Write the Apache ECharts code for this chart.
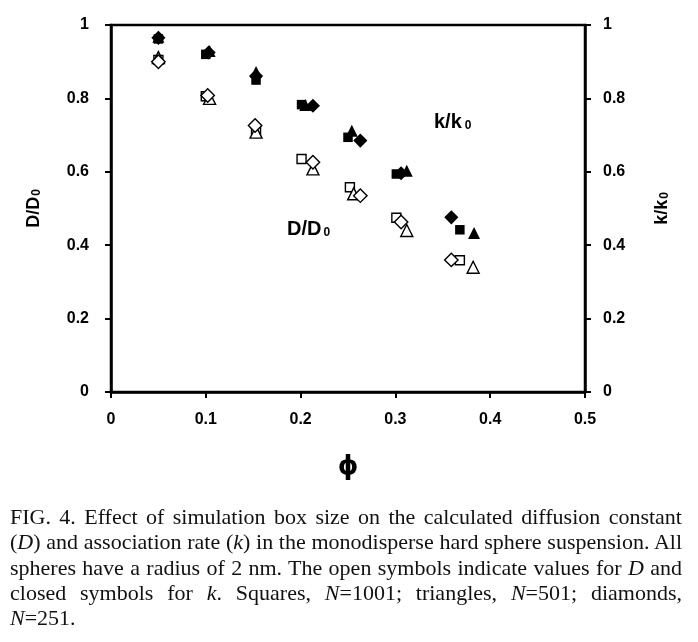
<!DOCTYPE html>
<html>
<head>
<meta charset="utf-8">
<script src="https://cdn.jsdelivr.net/npm/echarts@6/dist/echarts.min.js"></script>
<style>
  body { margin: 0; background: #fff; overflow: hidden; }
  #chart { position: absolute; left: 0; top: 0; width: 698px; height: 642px; }
  #caption {
    position: absolute; left: 10px; top: 504px; width: 672px;
    font-family: "Liberation Serif", "Times New Roman", serif;
    font-size: 22px; line-height: 25.3px; color: #111;
  }
  #caption span { display: block; text-align: justify; text-align-last: justify; white-space: nowrap; }
  #caption span.last { text-align-last: left; }
</style>
</head>
<body>
<div id="chart"></div>
<div id="caption">
  <span>FIG. 4. Effect of simulation box size on the calculated diffusion constant</span>
  <span>(<i>D</i>) and association rate (<i>k</i>) in the monodisperse hard sphere suspension. All</span>
  <span>spheres have a radius of 2 nm. The open symbols indicate values for <i>D</i> and</span>
  <span>closed symbols for <i>k</i>. Squares, <i>N</i>=1001; triangles, <i>N</i>=501; diamonds,</span>
  <span class="last"><i>N</i>=251.</span>
</div>
<script>
// squares, N=1001
var phiSquareK = [0.050, 0.100, 0.153, 0.201, 0.250, 0.301, 0.368];
var kSquare = [0.962, 0.920, 0.850, 0.783, 0.694, 0.594, 0.442];
var phiSquareD = [0.050, 0.100, 0.153, 0.201, 0.252, 0.301, 0.368];
var dSquare = [0.905, 0.806, 0.714, 0.635, 0.558, 0.475, 0.359];

// triangles, N=501
var phiTriK = [0.050, 0.104, 0.153, 0.205, 0.254, 0.312, 0.383];
var kTri = [0.968, 0.929, 0.872, 0.782, 0.712, 0.603, 0.433];
var phiTriD = [0.050, 0.104, 0.153, 0.213, 0.256, 0.312, 0.382];
var dTri = [0.911, 0.800, 0.708, 0.608, 0.540, 0.440, 0.340];

// diamonds, N=251
var phiDiaK = [0.050, 0.103, 0.153, 0.213, 0.263, 0.306, 0.359];
var kDia = [0.965, 0.925, 0.861, 0.780, 0.685, 0.596, 0.476];
var phiDiaD = [0.050, 0.102, 0.152, 0.213, 0.263, 0.306, 0.359];
var dDia = [0.900, 0.808, 0.726, 0.626, 0.535, 0.463, 0.360];

var xTicks = ["0", "0.1", "0.2", "0.3", "0.4", "0.5"];
var yTicks = ["0", "0.2", "0.4", "0.6", "0.8", "1"];

var font = "'Liberation Sans', Arial, sans-serif";

function pairs(xs, ys) {
  return xs.map(function (x, i) { return [x, ys[i]]; });
}

function makeSeries(name, xs, ys, axis, symbol, size, open, rotate) {
  return {
    name: name,
    type: "scatter",
    yAxisIndex: axis,
    symbol: symbol,
    symbolSize: size,
    symbolRotate: rotate || 0,
    itemStyle: {
      color: open ? "#fff" : "#000",
      borderColor: "#000",
      borderWidth: open ? 1.4 : 0,
      opacity: 1,
    },
    emphasis: { disabled: true },
    data: pairs(xs, ys),
  };
}

var myChart = echarts.init(document.getElementById("chart"), null, { renderer: "canvas" });

var axisLine = { show: true, onZero: false, lineStyle: { color: "#000", width: 2.5 } };
var axisTick = { show: true, length: 6, lineStyle: { color: "#000", width: 2 } };
var labelStyle = { color: "#000", fontFamily: font, fontWeight: "bold", fontSize: 16 };

var option = {
  animation: false,
  backgroundColor: "#fff",
  grid: { left: 111, right: 113, top: 25, bottom: 250, show: true, borderColor: "#000", borderWidth: 2.5 },
  xAxis: [{
    type: "value",
    min: 0,
    max: 0.5,
    interval: 0.1,
    axisLine: axisLine,
    axisTick: axisTick,
    splitLine: { show: false },
    axisLabel: Object.assign({ margin: 20, formatter: function (v) { return xTicks[Math.round(v * 10)]; } }, labelStyle),
    name: "\u03d5",
    nameLocation: "middle",
    nameGap: 62,
    nameTextStyle: { color: "#000", fontFamily: "'DejaVu Sans', sans-serif", fontWeight: "bold", fontSize: 26 },
  }],
  yAxis: [{
    type: "value",
    min: 0,
    max: 1,
    interval: 0.2,
    position: "left",
    axisLine: axisLine,
    axisTick: axisTick,
    splitLine: { show: false },
    axisLabel: Object.assign({ margin: 22, formatter: function (v) { return yTicks[Math.round(v * 5)]; } }, labelStyle),
    name: "{a|D/D}{b|0}",
    nameLocation: "middle",
    nameGap: 68,
    nameTextStyle: {
      rich: {
        a: { color: "#000", fontFamily: font, fontWeight: "bold", fontSize: 18, lineHeight: 22, verticalAlign: "bottom" },
        b: { color: "#000", fontFamily: font, fontWeight: "bold", fontSize: 12, lineHeight: 8, verticalAlign: "bottom", padding: [0, 0, 0, 1] },
      },
    },
  }, {
    type: "value",
    min: 0,
    max: 1,
    interval: 0.2,
    position: "right",
    axisLine: axisLine,
    axisTick: axisTick,
    splitLine: { show: false },
    axisLabel: Object.assign({ margin: 18, formatter: function (v) { return yTicks[Math.round(v * 5)]; } }, labelStyle),
    name: "{a|k/k}{b|0}",
    nameLocation: "middle",
    nameGap: 64,
    nameRotate: 90,
    nameTextStyle: {
      rich: {
        a: { color: "#000", fontFamily: font, fontWeight: "bold", fontSize: 18, lineHeight: 22, verticalAlign: "bottom" },
        b: { color: "#000", fontFamily: font, fontWeight: "bold", fontSize: 12, lineHeight: 8, verticalAlign: "bottom", padding: [0, 0, 0, 1] },
      },
    },
  }],
  graphic: [{
    type: "text",
    left: 434,
    top: 112,
    style: {
      text: "{a|k/k}{b|0}",
      rich: {
        a: { fill: "#000", fontFamily: font, fontWeight: "bold", fontSize: 20, lineHeight: 24, verticalAlign: "bottom" },
        b: { fill: "#000", fontFamily: font, fontWeight: "bold", fontSize: 12, lineHeight: 6, verticalAlign: "bottom", padding: [0, 0, 0, 3] },
      },
    },
  }, {
    type: "text",
    left: 287,
    top: 219,
    style: {
      text: "{a|D/D}{b|0}",
      rich: {
        a: { fill: "#000", fontFamily: font, fontWeight: "bold", fontSize: 20, lineHeight: 24, verticalAlign: "bottom" },
        b: { fill: "#000", fontFamily: font, fontWeight: "bold", fontSize: 12, lineHeight: 6, verticalAlign: "bottom", padding: [0, 0, 0, 2] },
      },
    },
  }],
  series: [
    makeSeries("D square", phiSquareD, dSquare, 0, "rect", 9, true),
    makeSeries("D triangle", phiTriD, dTri, 0, "triangle", 12, true),
    makeSeries("D diamond", phiDiaD, dDia, 0, "rect", 9.5, true, 45),
    makeSeries("k square", phiSquareK, kSquare, 1, "rect", 9.5, false),
    makeSeries("k triangle", phiTriK, kTri, 1, "triangle", 12, false),
    makeSeries("k diamond", phiDiaK, kDia, 1, "rect", 10, false, 45),
  ],
};

myChart.setOption(option);
</script>
</body>
</html>
